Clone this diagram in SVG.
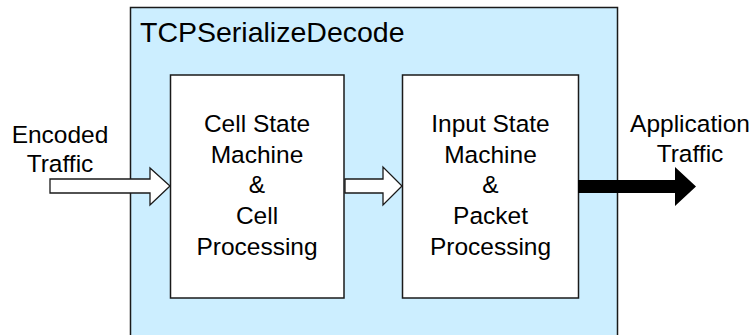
<svg xmlns="http://www.w3.org/2000/svg" width="755" height="335" viewBox="0 0 755 335">
  <style>
    .txt { font-family: "Liberation Sans", Arial, sans-serif; fill: #000; text-anchor: middle; }
    .lbl { font-size: 24.5px; }
    .title { font-size: 28.5px; text-anchor: start; }
    .box { fill: #ffffff; stroke: #1a1a1a; stroke-width: 1.5; }
    .outline-arrow { fill: #ffffff; stroke: #1a1a1a; stroke-width: 1.3; stroke-linejoin: miter; }
  </style>

  <rect width="755" height="335" fill="#ffffff"/>

  <!-- container -->
  <g id="tcp-serialize-decode">
    <rect x="130.5" y="7.5" width="487" height="340" fill="#cceeff" stroke="#1a1a1a" stroke-width="1.5"/>
    <text class="txt title" x="140" y="42">TCPSerializeDecode</text>
  </g>

  <!-- cell stage -->
  <g id="cell-state-machine">
    <rect class="box" x="170.5" y="75" width="173.5" height="223"/>
    <text class="txt lbl" x="257" y="132">Cell State</text>
    <text class="txt lbl" x="257" y="163">Machine</text>
    <text class="txt lbl" x="257" y="193">&amp;</text>
    <text class="txt lbl" x="257" y="224">Cell</text>
    <text class="txt lbl" x="257" y="255">Processing</text>
  </g>

  <!-- packet stage -->
  <g id="input-state-machine">
    <rect class="box" x="402.5" y="75" width="176" height="223"/>
    <text class="txt lbl" x="490.5" y="132">Input State</text>
    <text class="txt lbl" x="490.5" y="163">Machine</text>
    <text class="txt lbl" x="490.5" y="193">&amp;</text>
    <text class="txt lbl" x="490.5" y="224">Packet</text>
    <text class="txt lbl" x="490.5" y="255">Processing</text>
  </g>

  <!-- external labels -->
  <g id="encoded-traffic">
    <text class="txt lbl" x="60" y="143">Encoded</text>
    <text class="txt lbl" x="60" y="172">Traffic</text>
  </g>
  <g id="application-traffic">
    <text class="txt lbl" x="690" y="132">Application</text>
    <text class="txt lbl" x="690" y="162">Traffic</text>
  </g>

  <!-- connectors -->
  <g id="connectors">
    <polygon class="outline-arrow" points="50,179 150,179 150,168 170,186 150,205 150,193 50,193"/>
    <polygon class="outline-arrow" points="345,179 383,179 383,167 402,186 383,205 383,193 345,193"/>
    <polygon fill="#000000" points="578,180 675,180 675,167 696,186.5 675,206 675,193 578,193"/>
  </g>
</svg>
